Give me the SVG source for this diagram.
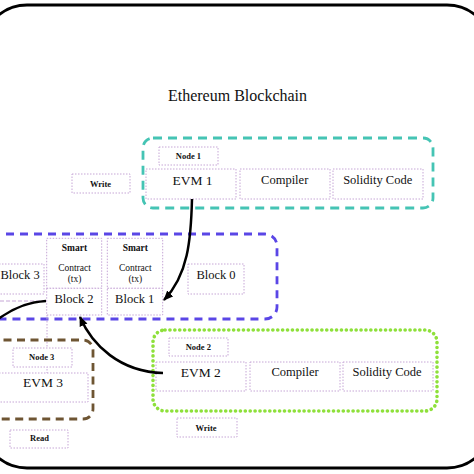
<svg xmlns="http://www.w3.org/2000/svg" width="474" height="474" viewBox="0 0 474 474" font-family="'Liberation Serif', 'Times New Roman', serif">
<style>
.box{fill:#ffffff;stroke:#c6a6d6;stroke-width:1;stroke-dasharray:1.5 1.5}
.t{font-family:"Liberation Serif","Times New Roman",serif;fill:#111;text-anchor:middle}
.sm{font-size:8.5px;font-weight:bold}
.md{font-size:9.5px}
.lg{font-size:12.5px}
.xl{font-size:13.5px}
.conn{fill:none;stroke:#000;stroke-width:2.5}
</style>
<defs>
<marker id="ah" markerWidth="10" markerHeight="10" refX="9" refY="5" orient="auto" markerUnits="userSpaceOnUse">
<path d="M0,0.8 L10,5 L0,9.2 Z" fill="#000"/>
</marker>
</defs>
<rect width="474" height="474" fill="#ffffff"/>
<rect x="-18" y="5" width="510" height="463" rx="45" ry="45" fill="none" stroke="#000" stroke-width="2.8"/>
<text class="t" x="237.5" y="101" font-size="16">Ethereum Blockchain</text>

<g id="node1">
<rect x="143" y="138" width="290" height="70" rx="10" fill="none" stroke="#45c4b4" stroke-width="2.8" stroke-dasharray="9 6"/>
<rect class="box" x="159" y="147" width="59" height="18"/>
<text class="t sm" x="188.5" y="159">Node 1</text>
<rect class="box" x="146" y="169" width="90" height="30"/>
<text class="t xl" x="192.5" y="185">EVM 1</text>
<rect class="box" x="240" y="169" width="90" height="30"/>
<text class="t lg" x="284.7" y="184">Compiler</text>
<rect class="box" x="333" y="169" width="90" height="30"/>
<text class="t lg" x="377.7" y="184">Solidity Code</text>
</g>

<g id="write1">
<rect class="box" x="72" y="174" width="58" height="19"/>
<text class="t sm" x="100.5" y="186.5">Write</text>
</g>

<g id="chain">
<rect x="-20" y="234" width="297" height="85" rx="12" fill="none" stroke="#5a46e6" stroke-width="2.8" stroke-dasharray="8 6"/>
<rect class="box" x="-10" y="264" width="54" height="30"/>
<text class="t lg" x="0.5" y="279" style="text-anchor:start">Block 3</text>
<line x1="0" y1="301" x2="45" y2="301" stroke="#c6a6d6" stroke-width="1" stroke-dasharray="4 2"/>
<rect class="box" x="46.7" y="238.3" width="55" height="50"/>
<text class="t md" x="74.5" y="250.7" font-weight="bold">Smart</text>
<text class="t md" x="74.5" y="270.5">Contract</text>
<text class="t md" x="74.5" y="282">(tx)</text>
<rect class="box" x="46.7" y="288.3" width="55" height="26.7"/>
<text class="t lg" x="74" y="302.5">Block 2</text>
<rect class="box" x="107.3" y="238.3" width="55.4" height="50"/>
<text class="t md" x="135.3" y="250.7" font-weight="bold">Smart</text>
<text class="t md" x="135.3" y="270.5">Contract</text>
<text class="t md" x="135.3" y="282">(tx)</text>
<rect class="box" x="107.3" y="288.3" width="55.4" height="26.7"/>
<text class="t lg" x="134.7" y="302.5">Block 1</text>
<rect class="box" x="188" y="264" width="56" height="30"/>
<text class="t lg" x="216" y="279">Block 0</text>
</g>

<line x1="47" y1="315" x2="47" y2="373" stroke="#c6a6d6" stroke-width="1" stroke-dasharray="1.5 1.5"/>

<g id="node2">
<rect x="153" y="330" width="284" height="81" rx="12" fill="none" stroke="#8ee03a" stroke-width="3.6" stroke-linecap="round" stroke-dasharray="0.1 4.8"/>
<rect class="box" x="169" y="338" width="59" height="18"/>
<text class="t sm" x="198.3" y="349.5">Node 2</text>
<rect class="box" x="156" y="362" width="90" height="29"/>
<text class="t xl" x="200.8" y="376.5">EVM 2</text>
<rect class="box" x="250" y="362" width="90" height="29"/>
<text class="t lg" x="295" y="375.5">Compiler</text>
<rect class="box" x="343" y="362" width="90" height="29"/>
<text class="t lg" x="387" y="375.5">Solidity Code</text>
</g>

<g id="write2">
<rect class="box" x="177" y="418" width="60" height="19"/>
<text class="t sm" x="206" y="430.5">Write</text>
</g>

<g id="node3">
<rect x="-20" y="340" width="113" height="79" rx="10" fill="none" stroke="#6e5533" stroke-width="2.8" stroke-dasharray="8 5.5"/>
<rect class="box" x="13" y="348" width="59" height="19"/>
<text class="t sm" x="41.7" y="359.5">Node 3</text>
<rect class="box" x="-10" y="373" width="98" height="29"/>
<text class="t xl" x="43" y="387">EVM 3</text>
</g>

<g id="read">
<rect class="box" x="10" y="430" width="58" height="18"/>
<text class="t sm" x="39.5" y="441">Read</text>
</g>

<g id="connectors">
<path class="conn" d="M192,199 C191,240 188,275 164,300" marker-end="url(#ah)"/>
<path class="conn" d="M46,301 C25,302 10,310 -3,320"/>
<path class="conn" d="M163,373 C120,372 92,345 80,317" marker-end="url(#ah)"/>
</g>
</svg>
